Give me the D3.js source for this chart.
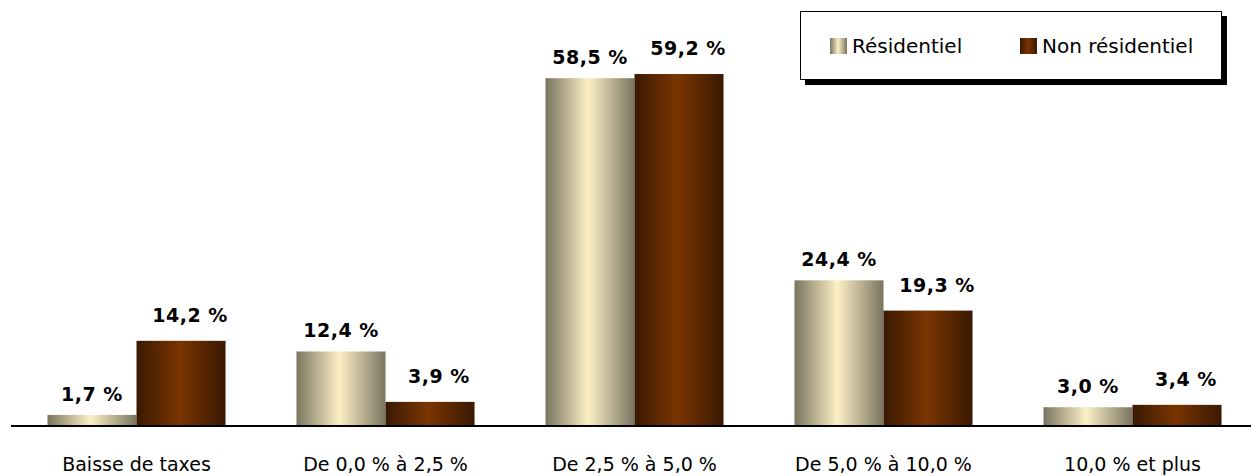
<!DOCTYPE html>
<html><head><meta charset="utf-8">
<script src="https://cdn.jsdelivr.net/npm/d3@7/dist/d3.min.js"></script>
<style>body{margin:0;background:#fff;} svg{display:block;font-family:"DejaVu Sans",sans-serif;}</style>
</head><body>
<svg id="chart" width="1251" height="476"></svg>
<script>
const categories = ["Baisse de taxes","De 0,0 % à 2,5 %","De 2,5 % à 5,0 %","De 5,0 % à 10,0 %","10,0 % et plus"];
const seriesNames = ["Résidentiel","Non résidentiel"];
const residentiel = [1.7, 12.4, 58.5, 24.4, 3.0];
const nonResidentiel = [14.2, 3.9, 59.2, 19.3, 3.4];
const valueLabels = [["1,7 %","12,4 %","58,5 %","24,4 %","3,0 %"],["14,2 %","3,9 %","59,2 %","19,3 %","3,4 %"]];

const svg = d3.select("#chart");
const defs = svg.append("defs");
function grad(id, edge, mid){
  const g = defs.append("linearGradient").attr("id",id).attr("x1","0%").attr("x2","100%").attr("y1","0%").attr("y2","0%");
  g.append("stop").attr("offset","0%").attr("stop-color",edge);
  g.append("stop").attr("offset","48%").attr("stop-color",mid);
  g.append("stop").attr("offset","100%").attr("stop-color",edge);
}
grad("gRes","#7a7460","#fdf0c6");
grad("gNon","#3a1903","#7a3500");
const fills = ["url(#gRes)","url(#gNon)"];

const x0 = d3.scaleBand().domain(categories).range([12,1257]).paddingInner(0.285).paddingOuter(0.1425);
const x1 = d3.scaleBand().domain(seriesNames).range([0, x0.bandwidth()]);
const y = d3.scaleLinear().domain([0,70]).range([425,10]);

const data = [residentiel, nonResidentiel];
const labelDx = [0, 9], labelDy = [14, 19];

seriesNames.forEach((s,si)=>{
  const g = svg.append("g");
  g.selectAll("rect").data(categories).join("rect")
    .attr("x", c=>x0(c)+x1(s))
    .attr("y", (c,i)=>y(data[si][i]))
    .attr("width", x1.bandwidth())
    .attr("height", (c,i)=>y(0)-y(data[si][i]))
    .attr("fill", fills[si]);
  g.selectAll("text").data(categories).join("text")
    .attr("x", c=>x0(c)+x1(s)+x1.bandwidth()/2+labelDx[si])
    .attr("y", (c,i)=>y(data[si][i])-labelDy[si])
    .attr("text-anchor","middle")
    .attr("font-size","19px").attr("font-weight","bold").attr("fill","#000")
    .attr("letter-spacing","0.5px")
    .text((c,i)=>valueLabels[si][i]);
});

// axis
const axis = d3.axisBottom(x0).tickSize(0).tickPadding(32);
const ag = svg.append("g").attr("transform","translate(0,426)").call(axis);
ag.select(".domain").remove();
ag.append("line").attr("x1",11).attr("x2",1251).attr("y1",0).attr("y2",0).attr("stroke","#000").attr("stroke-width",2);
ag.selectAll(".tick text").attr("font-size","19px").attr("fill","#000").attr("font-family","DejaVu Sans, sans-serif");

// legend
const lg = svg.append("g");
lg.append("rect").attr("x",805).attr("y",16).attr("width",422).attr("height",69).attr("fill","#000");
lg.append("rect").attr("x",800.5).attr("y",11.5).attr("width",421).attr("height",68).attr("fill","#fff").attr("stroke","#000").attr("stroke-width",1);
const legX = [830, 1020];
seriesNames.forEach((s,si)=>{
  lg.append("rect").attr("x",legX[si]).attr("y",38).attr("width",17).attr("height",16).attr("fill",fills[si]);
  lg.append("text").attr("x",legX[si]+22).attr("y",53).attr("font-size","20px").attr("fill","#000").text(s);
});
</script>
</body></html>
